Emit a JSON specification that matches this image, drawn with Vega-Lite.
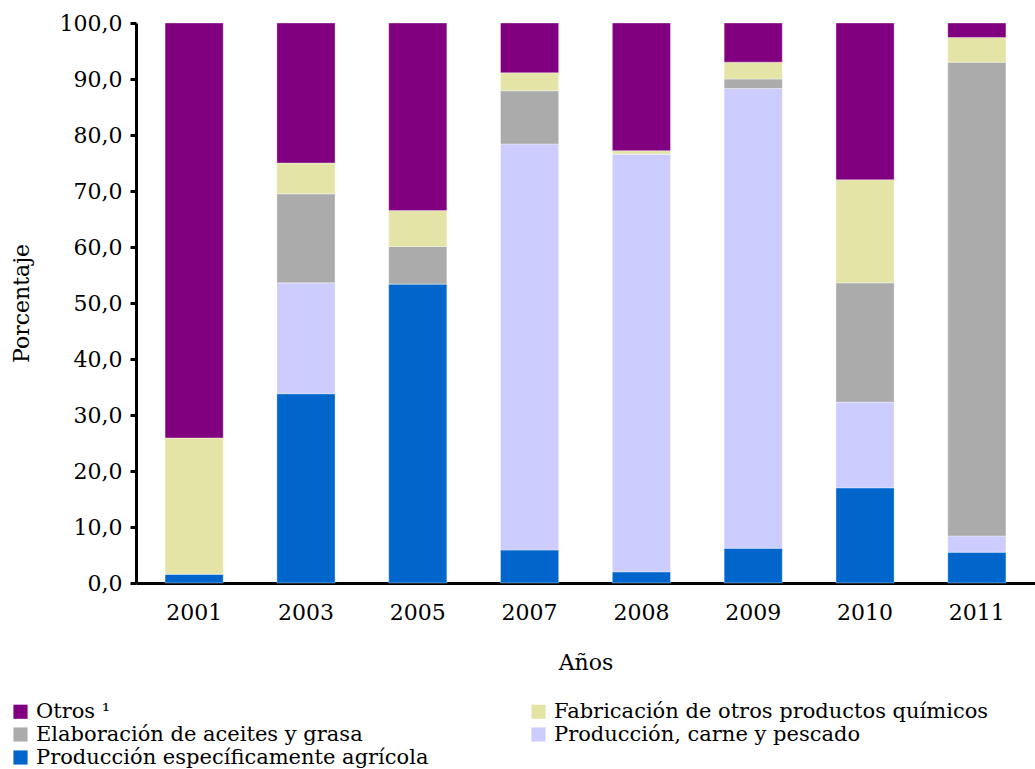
{
  "$schema": "https://vega.github.io/schema/vega-lite/v6.json",
  "width": 899,
  "height": 560,
  "padding": {"left": 10, "top": 12, "right": 0, "bottom": 0},
  "autosize": {"type": "pad"},
  "background": "white",
  "config": {
    "font": "DejaVu Serif",
    "view": {"stroke": null}
  },
  "data": {
    "values": [
      {"anio": "2001", "cat": "Producción específicamente agrícola", "orden": 1, "valor": 1.6},
      {"anio": "2001", "cat": "Producción, carne y pescado", "orden": 2, "valor": 0},
      {"anio": "2001", "cat": "Elaboración de aceites y grasa", "orden": 3, "valor": 0},
      {"anio": "2001", "cat": "Fabricación de otros productos químicos", "orden": 4, "valor": 24.3},
      {"anio": "2001", "cat": "Otros ¹", "orden": 5, "valor": 74.1},
      {"anio": "2003", "cat": "Producción específicamente agrícola", "orden": 1, "valor": 33.8},
      {"anio": "2003", "cat": "Producción, carne y pescado", "orden": 2, "valor": 19.8},
      {"anio": "2003", "cat": "Elaboración de aceites y grasa", "orden": 3, "valor": 15.9},
      {"anio": "2003", "cat": "Fabricación de otros productos químicos", "orden": 4, "valor": 5.5},
      {"anio": "2003", "cat": "Otros ¹", "orden": 5, "valor": 25.0},
      {"anio": "2005", "cat": "Producción específicamente agrícola", "orden": 1, "valor": 53.4},
      {"anio": "2005", "cat": "Producción, carne y pescado", "orden": 2, "valor": 0},
      {"anio": "2005", "cat": "Elaboración de aceites y grasa", "orden": 3, "valor": 6.7},
      {"anio": "2005", "cat": "Fabricación de otros productos químicos", "orden": 4, "valor": 6.4},
      {"anio": "2005", "cat": "Otros ¹", "orden": 5, "valor": 33.5},
      {"anio": "2007", "cat": "Producción específicamente agrícola", "orden": 1, "valor": 5.9},
      {"anio": "2007", "cat": "Producción, carne y pescado", "orden": 2, "valor": 72.5},
      {"anio": "2007", "cat": "Elaboración de aceites y grasa", "orden": 3, "valor": 9.5},
      {"anio": "2007", "cat": "Fabricación de otros productos químicos", "orden": 4, "valor": 3.2},
      {"anio": "2007", "cat": "Otros ¹", "orden": 5, "valor": 8.9},
      {"anio": "2008", "cat": "Producción específicamente agrícola", "orden": 1, "valor": 2.0},
      {"anio": "2008", "cat": "Producción, carne y pescado", "orden": 2, "valor": 74.6},
      {"anio": "2008", "cat": "Elaboración de aceites y grasa", "orden": 3, "valor": 0},
      {"anio": "2008", "cat": "Fabricación de otros productos químicos", "orden": 4, "valor": 0.6},
      {"anio": "2008", "cat": "Otros ¹", "orden": 5, "valor": 22.8},
      {"anio": "2009", "cat": "Producción específicamente agrícola", "orden": 1, "valor": 6.2},
      {"anio": "2009", "cat": "Producción, carne y pescado", "orden": 2, "valor": 82.1},
      {"anio": "2009", "cat": "Elaboración de aceites y grasa", "orden": 3, "valor": 1.7},
      {"anio": "2009", "cat": "Fabricación de otros productos químicos", "orden": 4, "valor": 3.0},
      {"anio": "2009", "cat": "Otros ¹", "orden": 5, "valor": 7.0},
      {"anio": "2010", "cat": "Producción específicamente agrícola", "orden": 1, "valor": 17.0},
      {"anio": "2010", "cat": "Producción, carne y pescado", "orden": 2, "valor": 15.3},
      {"anio": "2010", "cat": "Elaboración de aceites y grasa", "orden": 3, "valor": 21.3},
      {"anio": "2010", "cat": "Fabricación de otros productos químicos", "orden": 4, "valor": 18.4},
      {"anio": "2010", "cat": "Otros ¹", "orden": 5, "valor": 28.0},
      {"anio": "2011", "cat": "Producción específicamente agrícola", "orden": 1, "valor": 5.5},
      {"anio": "2011", "cat": "Producción, carne y pescado", "orden": 2, "valor": 2.9},
      {"anio": "2011", "cat": "Elaboración de aceites y grasa", "orden": 3, "valor": 84.6},
      {"anio": "2011", "cat": "Fabricación de otros productos químicos", "orden": 4, "valor": 4.4},
      {"anio": "2011", "cat": "Otros ¹", "orden": 5, "valor": 2.6}
    ]
  },
  "mark": {"type": "bar", "strokeWidth": 1, "strokeOpacity": 0.35, "stroke": "white"},
  "encoding": {
    "x": {
      "field": "anio",
      "type": "ordinal",
      "title": "Años",
      "scale": {"paddingInner": 0.48, "paddingOuter": 0.26},
      "axis": {
        "labelAngle": 0,
        "labelFontSize": 22,
        "labelColor": "black",
        "labelPadding": 19,
        "ticks": false,
        "domainColor": "black",
        "domainWidth": 3,
        "titleFontSize": 22,
        "titleFontWeight": "normal",
        "titleColor": "black",
        "titlePadding": 29
      }
    },
    "y": {
      "field": "valor",
      "type": "quantitative",
      "stack": "zero",
      "title": "Porcentaje",
      "scale": {"domain": [0, 100], "nice": false},
      "axis": {
        "values": [0, 10, 20, 30, 40, 50, 60, 70, 80, 90, 100],
        "labelExpr": "replace(format(datum.value, '.1f'), '.', ',')",
        "labelFontSize": 22,
        "labelColor": "black",
        "labelPadding": 8,
        "tickSize": 6,
        "tickWidth": 3,
        "tickColor": "black",
        "domainColor": "black",
        "domainWidth": 3,
        "grid": false,
        "titleFontSize": 22,
        "titleFontWeight": "normal",
        "titleColor": "black",
        "titlePadding": 26
      }
    },
    "color": {
      "field": "cat",
      "type": "nominal",
      "title": null,
      "scale": {
        "domain": ["Otros ¹", "Elaboración de aceites y grasa", "Producción específicamente agrícola", "Fabricación de otros productos químicos", "Producción, carne y pescado"],
        "range": ["#800080", "#ababab", "#0066cc", "#e4e4a6", "#ccccff"]
      },
      "legend": {
        "orient": "none",
        "legendX": -126,
        "legendY": 678,
        "columns": 2,
        "columnPadding": 99,
        "rowPadding": 1,
        "symbolType": "square",
        "symbolSize": 200,
        "symbolStrokeWidth": 0,
        "labelFontSize": 21,
        "labelColor": "black",
        "labelOffset": 5,
        "labelLimit": 600
      }
    },
    "order": {"field": "orden", "type": "quantitative"}
  }
}
